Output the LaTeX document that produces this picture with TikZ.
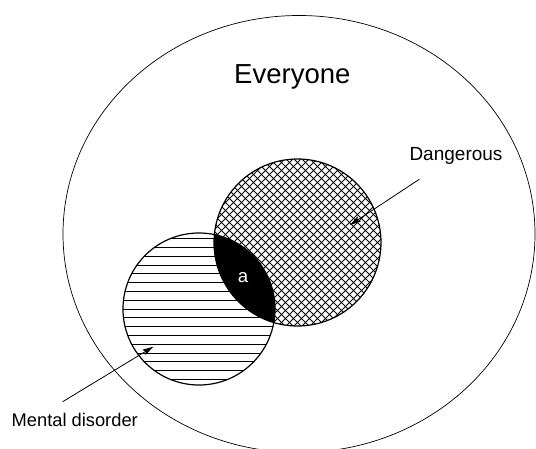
\documentclass[tikz,border=0pt]{standalone}
\usepackage{fontspec}
\setmainfont{Liberation Sans}
\usetikzlibrary{arrows.meta,shapes.geometric}
\begin{document}
\begin{tikzpicture}[x=1pt,y=-1pt,
  lbl/.style={inner sep=0pt, outer sep=0pt, font=\fontsize{18.6}{22}\selectfont},
  setcircle/.style={circle, draw, line width=1.2pt, inner sep=0pt, outer sep=0pt},
  hatchline/.style={line width=0.9pt},
  pointer/.style={line width=0.8pt, -{Stealth[length=11pt,width=6pt,inset=2pt]}}]
\useasboundingbox (0,0) rectangle (536,448);
\fill[white] (0,0) rectangle (536,448);
% universe
\node[ellipse, draw, line width=0.7pt, inner sep=0pt, minimum width=472pt, minimum height=437pt] (all) at (299,234) {};
% horizontal hatching: mental disorder
\begin{scope}
  \clip (199,309) circle [radius=76];
  \foreach \k in {-9,...,9} \draw[hatchline] (110,309+8.8*\k) -- (290,309+8.8*\k);
\end{scope}
% cross hatching: dangerous
\begin{scope}
  \clip (297.5,242.5) circle [radius=83.5];
  \foreach \k in {-25,...,25} {
    \draw[hatchline] (197.5+8*\k,142.5) -- ++(200,200);
    \draw[hatchline] (397.5+8*\k,142.5) -- ++(-200,200);
  }
\end{scope}
% intersection
\begin{scope}
  \clip (199,309) circle [radius=76];
  \fill (297.5,242.5) circle [radius=83.5];
\end{scope}
% set outlines
\node[setcircle, minimum size=152pt] (md) at (199,309) {};
\node[setcircle, minimum size=167pt] (dg) at (297.5,242.5) {};
% labels
\node[lbl, anchor=base, font=\fontsize{27.5}{32}\selectfont] (every) at (292.3,83.3) {Everyone};
\node[lbl, anchor=base, font=\fontsize{19}{22}\selectfont] (dlab) at (456,160) {Dangerous};
\node[lbl, anchor=base west, font=\fontsize{18.3}{22}\selectfont] (mlab) at (11.7,426.7) {Mental disorder};
\node[lbl, anchor=base, text=white] (a) at (243,282.3) {a};
% pointers
\coordinate (dfrom) at (419.3,179.3);
\coordinate (dto) at (350,225);
\coordinate (mfrom) at (62.7,401.7);
\coordinate (mto) at (153.3,346.7);
\draw[pointer] (dfrom) -- (dto);
\draw[pointer] (mfrom) -- (mto);
\end{tikzpicture}
\end{document}
